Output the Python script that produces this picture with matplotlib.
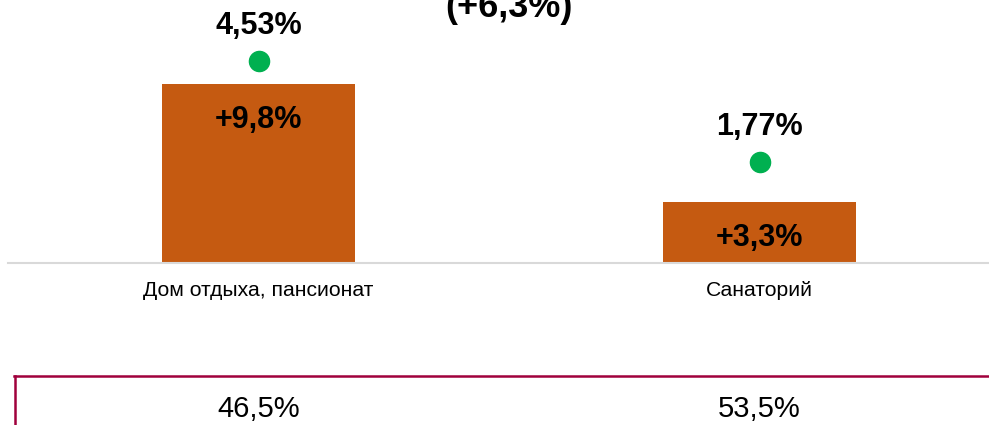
import matplotlib
matplotlib.use("Agg")
import matplotlib.pyplot as plt
from matplotlib.lines import Line2D
import matplotlib.transforms as mtransforms

plt.rcParams['font.family'] = ['Liberation Sans', 'DejaVu Sans']

# ---- data ----
categories = ["Дом отдыха, пансионат", "Санаторий"]
growth = [9.8, 3.3]          # bar values, %
level = [4.53, 1.77]         # dot values, %
shares = [46.5, 53.5]        # bottom row, %
total_label = "(+6,3%)"

BAR_COLOR = "#C55A11"
DOT_COLOR = "#00B050"
AXIS_COLOR = "#D9D9D9"
BOX_COLOR = "#A0003C"

W, H = 989, 425
fig = plt.figure(figsize=(W / 100, H / 100), dpi=100)

def fx(px):
    return px / W

def fy(py):
    return (H - py) / H

base_px = 262.7
ax = fig.add_axes([fx(8), fy(base_px), fx(989 - 8), base_px / H])
ax.set_xlim(-0.5, 1.458)
ax.set_ylim(0, 14.39)
x = list(range(len(categories)))
ax.bar(x, growth, width=0.386, color=BAR_COLOR, zorder=2)

for s in ["top", "left", "right"]:
    ax.spines[s].set_visible(False)
ax.spines["bottom"].set_color(AXIS_COLOR)
ax.spines["bottom"].set_linewidth(1.5)
ax.set_yticks([])
ax.set_xticks(x)
ax.set_xticklabels(categories, fontsize=15.2)
ax.tick_params(axis="x", length=0, pad=13)

def fmt(v, sign=False, nd=1):
    s = f"{v:+.{nd}f}%" if sign else f"{v:.{nd}f}%"
    return s.replace(".", ",")

for xi, g in zip(x, growth):
    ax.annotate(fmt(g, sign=True), (xi, g), xytext=(0, -44 * 0.72),
                textcoords="offset points", ha="center", va="baseline",
                fontsize=22, fontweight="bold", color="black", zorder=3)

ax2 = ax.twinx()
ax2.set_ylim(-0.998, 6.202)
ax2.axis("off")
ax2.plot(x, level, "o", ms=14.5, color=DOT_COLOR, linestyle="none")
for xi, v in zip(x, level):
    ax2.annotate(fmt(v, nd=2), (xi, v), xytext=(0, 27 * 0.72),
                 textcoords="offset points", ha="center", va="baseline",
                 fontsize=22, fontweight="bold", color="black")

# title (partially cut off at top)
fig.text(fx(509), fy(17), total_label, ha="center", va="baseline",
         fontsize=26, fontweight="bold", color="black")

# bottom box with shares
fig.add_artist(Line2D([fx(15), fx(15)], [0, fy(376)], transform=fig.transFigure,
                      color=BOX_COLOR, lw=1.8))
fig.add_artist(Line2D([fx(14), 1], [fy(376), fy(376)], transform=fig.transFigure,
                      color=BOX_COLOR, lw=1.8))
trans = mtransforms.blended_transform_factory(ax.transData, fig.transFigure)
for xi, sh in zip(x, shares):
    fig.text(xi, fy(417), fmt(sh), transform=trans, ha="center", va="baseline",
             fontsize=21, color="black")

fig.savefig("out.png", dpi=100)
